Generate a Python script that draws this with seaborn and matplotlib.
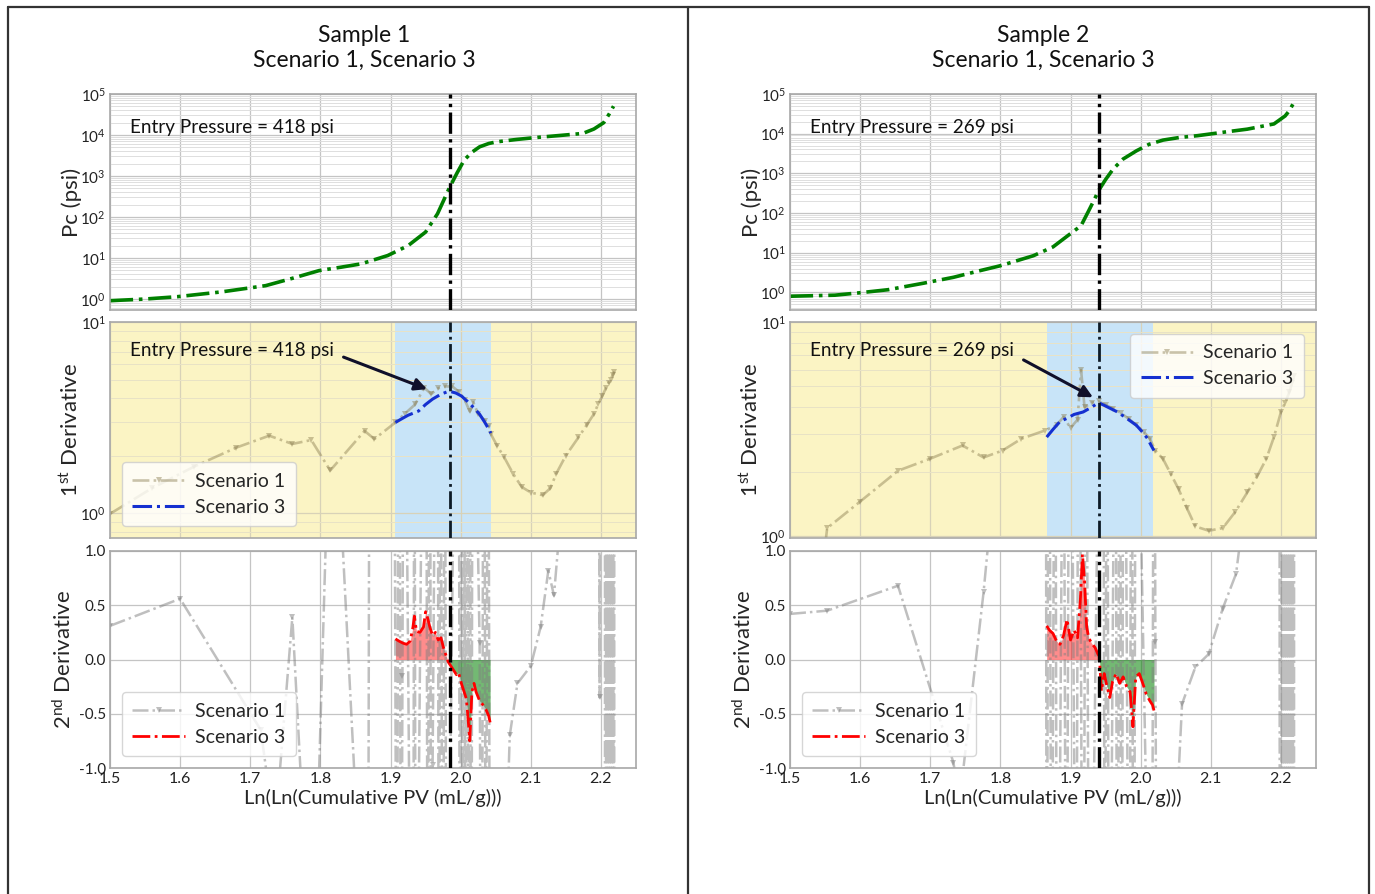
import numpy as np
import matplotlib
matplotlib.use('Agg')
import matplotlib.pyplot as plt
import seaborn as sns
from matplotlib.lines import Line2D
from matplotlib.ticker import LogLocator, NullFormatter, MultipleLocator, FixedLocator

# ---------------- data ----------------
titles = ["Sample 1", "Sample 2"]
subtitle = "Scenario 1, Scenario 3"
entry_pressures = [418, 269]
entry_x = [1.985, 1.940]
band_lo = [1.906, 1.866]
band_hi = [2.043, 2.017]

# Sample 1 - capillary pressure
s1_pc_x = [1.50, 1.55, 1.596, 1.66, 1.722, 1.76, 1.798, 1.83, 1.858, 1.896, 1.925, 1.95, 1.967, 1.976,
           1.984, 1.995, 2.005, 2.016, 2.027, 2.04, 2.051, 2.08, 2.108, 2.14, 2.174, 2.19, 2.204, 2.212, 2.218]
s1_pc_y = [0.91, 1.0, 1.14, 1.5, 2.12, 3.2, 4.93, 6.0, 7.2, 11.5, 20, 43, 120, 260,
           520, 1200, 2440, 3800, 5150, 6200, 6800, 7800, 8700, 9700, 10900, 14000, 20000, 33000, 50500]
# Sample 1 - 1st derivative, scenario 1
s1_d1_x = [1.50, 1.56, 1.62, 1.68, 1.727, 1.76, 1.787, 1.814, 1.863, 1.877, 1.907, 1.92, 1.935, 1.948,
           1.958, 1.968, 1.978, 1.988, 1.998, 2.006, 2.013, 2.018, 2.025, 2.035, 2.040, 2.043, 2.052,
           2.062, 2.075, 2.087, 2.10, 2.117, 2.128, 2.136, 2.15, 2.168, 2.18, 2.19, 2.196, 2.202, 2.207,
           2.211, 2.214, 2.217, 2.219]
s1_d1_y = [0.99, 1.35, 1.75, 2.2, 2.54, 2.30, 2.41, 1.67, 2.69, 2.44, 2.98, 3.3, 3.7, 4.53,
           4.2, 4.5, 4.6, 4.6, 4.3, 3.9, 3.4, 3.8, 3.3, 3.04, 2.86, 2.59, 2.25,
           1.96, 1.6, 1.37, 1.28, 1.24, 1.35, 1.6, 2.0, 2.49, 2.9, 3.3, 3.71, 4.1, 4.5,
           4.8, 5.0, 5.3, 5.5]
# Sample 1 - 1st derivative, scenario 3
s1_d1s3_x = [1.907, 1.915, 1.925, 1.94, 1.95, 1.96, 1.972, 1.98, 1.986, 1.993, 2.001, 2.01, 2.019,
             2.027, 2.034, 2.040, 2.043]
s1_d1s3_y = [2.98, 3.1, 3.25, 3.42, 3.7, 3.95, 4.19, 4.3, 4.32, 4.25, 4.1, 3.83, 3.55,
             3.29, 3.0, 2.75, 2.62]
# Sample 1 - 2nd derivative, scenario 1
s1_d2_x = [1.50, 1.60, 1.715, 1.735, 1.76, 1.778, 1.796, 1.81, 1.829, 1.852, 1.868, 1.870, 1.905,
           1.909, 1.912, 1.915, 1.917, 1.919, 1.932, 1.934, 1.936, 1.950, 1.953, 1.956, 1.958, 1.960,
           1.967, 1.969, 1.971, 1.975, 1.977, 1.980, 1.997, 1.999, 2.001, 2.003, 2.005, 2.007, 2.009,
           2.011, 2.013, 2.015, 2.017, 2.027, 2.030, 2.033, 2.036, 2.039, 2.042, 2.044,
           2.07, 2.081, 2.10, 2.114, 2.125, 2.133, 2.145, 2.197, 2.198,
           2.205, 2.2065, 2.208, 2.2095, 2.211, 2.2125, 2.214, 2.2155, 2.217, 2.2185, 2.2195]
s1_d2_y = [0.31, 0.56, -0.65, -1.6, 0.39, -1.8, -1.5, 1.6, 1.4, -1.5, -3.0, 3.0, 3.5,
           -4.2, 5.1, -3.8, -0.15, 4.6, -5.3, 3.9, -4.4, 5.8, -3.6, 4.9, -4.1, -0.97,
           5.2, -4.7, 3.8, -5.0, 4.3, -3.9, 5.5, -4.8, 4.1, -5.2, 3.7, -4.5, 5.0,
           -3.9, 4.6, -5.1, 3.9, 0.15, -4.4, 5.3, -3.8, 4.7, -4.0, -6.0,
           -0.70, -0.22, -0.06, 0.30, 0.82, 0.59, 1.5, 3.0, -0.35,
           30, -30, 30, -30, 30, -30, 30, -30, 30, -30, 30]
# Sample 1 - 2nd derivative, scenario 3
s1_d2s3_x = [1.907, 1.912, 1.918, 1.923, 1.928, 1.932, 1.934, 1.937, 1.942, 1.947, 1.950, 1.953, 1.956,
             1.960, 1.964, 1.968, 1.972, 1.975, 1.978, 1.982, 1.986, 1.990, 1.994, 1.997, 2.001, 2.005,
             2.008, 2.010, 2.013, 2.016, 2.019, 2.022, 2.027, 2.032, 2.036, 2.040, 2.042]
s1_d2s3_y = [0.19, 0.17, 0.15, 0.14, 0.17, 0.30, 0.40, 0.26, 0.25, 0.30, 0.44, 0.38, 0.30,
             0.22, 0.25, 0.18, 0.20, 0.12, 0.06, -0.02, -0.06, -0.10, -0.14, -0.12, -0.22, -0.30,
             -0.36, -0.50, -0.75, -0.30, -0.22, -0.30, -0.38, -0.42, -0.46, -0.52, -0.58]

# Sample 2 - capillary pressure
s2_pc_x = [1.50, 1.564, 1.60, 1.64, 1.69, 1.733, 1.77, 1.80, 1.847, 1.875, 1.896, 1.915, 1.926, 1.934,
           1.94, 1.95, 1.961, 1.975, 1.994, 2.012, 2.032, 2.055, 2.081, 2.12, 2.152, 2.19, 2.206, 2.212, 2.217]
s2_pc_y = [0.8, 0.85, 0.98, 1.17, 1.7, 2.4, 3.5, 4.7, 8.4, 14, 26.8, 48, 115, 220,
           368, 700, 1300, 2300, 3700, 5400, 6900, 8000, 8900, 11000, 13000, 17600, 28000, 38000, 55000]
# Sample 2 - 1st derivative, scenario 1
s2_d1_x = [1.550, 1.553, 1.60, 1.654, 1.70, 1.746, 1.776, 1.803, 1.83, 1.863, 1.88, 1.89, 1.90, 1.91,
           1.915, 1.92, 1.93, 1.94, 1.95, 1.961, 1.972, 1.983, 1.994, 2.005, 2.013, 2.021, 2.032, 2.043,
           2.054, 2.066, 2.078, 2.097, 2.117, 2.135, 2.152, 2.166, 2.179, 2.19, 2.2, 2.206, 2.212, 2.216, 2.219]
s2_d1_y = [0.9, 1.09, 1.45, 2.02, 2.3, 2.65, 2.33, 2.51, 2.85, 3.11, 3.3, 3.6, 3.2, 3.5,
           5.97, 4.0, 4.2, 4.26, 4.1, 3.94, 3.75, 3.53, 3.3, 3.06, 2.85, 2.51, 2.29, 1.95,
           1.66, 1.35, 1.11, 1.06, 1.09, 1.3, 1.6, 1.9, 2.29, 2.9, 3.8, 4.2, 4.7, 5.2, 5.6]
# Sample 2 - 1st derivative, scenario 3
s2_d1s3_x = [1.866, 1.875, 1.885, 1.895, 1.905, 1.918, 1.93, 1.94, 1.95, 1.96, 1.967, 1.98, 1.994,
             2.003, 2.01, 2.015, 2.019]
s2_d1s3_y = [2.9, 3.15, 3.43, 3.55, 3.7, 3.8, 4.0, 4.2, 4.05, 3.9, 3.8, 3.55, 3.29,
             3.05, 2.85, 2.65, 2.51]
# Sample 2 - 2nd derivative, scenario 1
s2_d2_x = [1.50, 1.553, 1.654, 1.733, 1.742, 1.776, 1.786, 1.865,
           1.866, 1.869, 1.873, 1.878, 1.881, 1.890, 1.894, 1.899, 1.908, 1.912, 1.918, 1.922, 1.927,
           1.946, 1.949, 1.952, 1.955, 1.964, 1.967, 1.970, 1.973, 1.976, 1.984, 1.987, 1.990, 1.993,
           2.016, 2.019, 2.021, 2.024,
           2.059, 2.078, 2.097, 2.117, 2.136, 2.148, 2.198,
           2.200, 2.2015, 2.203, 2.2045, 2.206, 2.2075, 2.209, 2.2105, 2.212, 2.2135, 2.215, 2.2165,
           2.218, 2.2195]
s2_d2_y = [0.42, 0.45, 0.68, -0.95, -1.3, 0.62, 1.3, 2.5,
           -4.5, 5.0, -3.9, 4.4, -5.2, 3.8, -4.6, 5.1, -3.7, 4.8, -5.0, 4.2, -4.4,
           5.3, -3.9, 4.6, -4.8, 3.9, -5.1, 4.4, -3.8, 5.0, -4.3, 4.7, -5.2, 3.8,
           -4.1, 4.9, 0.16, -5.0,
           -0.41, -0.07, 0.05, 0.47, 0.79, 1.4, 2.5,
           -30, 30, -30, 30, -30, 30, -30, 30, -30, 30, -30, 30,
           -30, 30]
# Sample 2 - 2nd derivative, scenario 3
s2_d2s3_x = [1.866, 1.870, 1.875, 1.880, 1.885, 1.890, 1.895, 1.900, 1.905, 1.910, 1.914, 1.917, 1.920,
             1.923, 1.926, 1.930, 1.935, 1.939, 1.941, 1.944, 1.948, 1.952, 1.956, 1.960, 1.965, 1.970,
             1.975, 1.980, 1.985, 1.989, 1.993, 1.998, 2.003, 2.008, 2.013, 2.017, 2.019]
s2_d2s3_y = [0.31, 0.27, 0.24, 0.17, 0.14, 0.22, 0.37, 0.18, 0.27, 0.20, 0.55, 0.97, 0.72,
             0.30, 0.20, 0.15, 0.11, 0.05, 0.03, -0.29, -0.13, -0.25, -0.35, -0.20, -0.13, -0.22,
             -0.16, -0.25, -0.30, -0.62, -0.16, -0.13, -0.22, -0.32, -0.38, -0.42, -0.47]

pc_ylim_low = [0.54, 0.36]
d1_ylim_low = [0.74, 0.98]
arrow_tail = [(1.833, 6.55), (1.833, 6.65)]
arrow_head = [(1.952, 4.45), (1.932, 4.45)]
d1_legend_loc = ["lower left", "upper right"]

# ---------------- style ----------------
sns.set_style("whitegrid")
plt.rcParams['font.family'] = ['Lato', 'DejaVu Sans']
plt.rcParams['mathtext.fontset'] = 'custom'
plt.rcParams['mathtext.rm'] = 'Lato'
plt.rcParams['mathtext.it'] = 'Lato:italic'
plt.rcParams['mathtext.bf'] = 'Lato:bold'

W, H = 1375, 894
fig = plt.figure(figsize=(W / 100, H / 100), dpi=100)

def fx(px):
    return px / W

def fy(py):
    return 1 - py / H

col_left = [110, 790]
col_w = 526
rows = [(94, 310), (322, 538), (551, 768)]
label_x = [-0.054, -0.054, -0.066]

YELLOW = '#FBF4C4'
BLUE = '#C8E4F8'
S1C = 'gray'
S1C_MID = '#8a7d50'

data = [
    dict(pcx=s1_pc_x, pcy=s1_pc_y, d1x=s1_d1_x, d1y=s1_d1_y, d1s3x=s1_d1s3_x, d1s3y=s1_d1s3_y,
         d2x=s1_d2_x, d2y=s1_d2_y, d2s3x=s1_d2s3_x, d2s3y=s1_d2s3_y),
    dict(pcx=s2_pc_x, pcy=s2_pc_y, d1x=s2_d1_x, d1y=s2_d1_y, d1s3x=s2_d1s3_x, d1s3y=s2_d1s3_y,
         d2x=s2_d2_x, d2y=s2_d2_y, d2s3x=s2_d2s3_x, d2s3y=s2_d2s3_y),
]

legend_kw = dict(fontsize=14, handlelength=2.7, borderpad=0.55, labelspacing=0.45,
                 handletextpad=0.5, borderaxespad=0.6, edgecolor='#cccccc')

def style_axes(ax):
    for sp in ax.spines.values():
        sp.set_color('#a8a8a8')
        sp.set_linewidth(1.2)
    ax.tick_params(labelsize=11, colors='#222222', length=0, pad=3)
    ax.set_xlim(1.5, 2.25)
    ax.xaxis.set_major_locator(MultipleLocator(0.1))
    ax.grid(True, which='major', color='#c4c4c4', lw=0.9)

for i in range(2):
    d = data[i]
    L = col_left[i]
    axs = []
    for (t, b) in rows:
        ax = fig.add_axes([fx(L), fy(b), fx(col_w), (b - t) / H])
        axs.append(ax)
    ax0, ax1, ax2 = axs

    # --- top: capillary pressure ---
    sns.lineplot(x=d['pcx'], y=d['pcy'], ax=ax0, color='green', linestyle='-.', lw=2.6,
                 estimator=None, sort=False)
    ax0.set_yscale('log')
    ax0.set_ylim(pc_ylim_low[i], 1e5)
    ax0.yaxis.set_major_locator(LogLocator(base=10, numticks=20))
    ax0.yaxis.set_minor_locator(LogLocator(base=10, subs=np.arange(2, 10), numticks=100))
    ax0.yaxis.set_minor_formatter(NullFormatter())
    style_axes(ax0)
    ax0.yaxis.grid(True, which='minor', color='#dedede', lw=0.7)
    ax0.axvline(entry_x[i], color='black', ls='-.', lw=2.4, zorder=5)
    ax0.set_xticklabels([])
    ax0.set_ylabel('Pc (psi)', fontsize=16)
    ax0.text(0.038, 0.845, f'Entry Pressure = {entry_pressures[i]} psi', transform=ax0.transAxes,
             fontsize=13.6, va='center', ha='left', color='#111111')

    # --- middle: 1st derivative ---
    ax1.axvspan(1.5, band_lo[i], color=YELLOW, zorder=0.1, lw=0)
    ax1.axvspan(band_lo[i], band_hi[i], color=BLUE, zorder=0.1, lw=0)
    ax1.axvspan(band_hi[i], 2.25, color=YELLOW, zorder=0.1, lw=0)
    sns.lineplot(x=d['d1x'], y=d['d1y'], ax=ax1, color=S1C_MID, alpha=0.45, linestyle='-.', lw=1.9,
                 marker='v', markersize=4, markeredgewidth=0, estimator=None, sort=False,
                 label='Scenario 1')
    sns.lineplot(x=d['d1s3x'], y=d['d1s3y'], ax=ax1, color='#1530d0', linestyle='-.', lw=2.2,
                 estimator=None, sort=False, label='Scenario 3')
    ax1.set_yscale('log')
    ax1.set_ylim(d1_ylim_low[i], 10)
    ax1.yaxis.set_major_locator(LogLocator(base=10, numticks=20))
    ax1.yaxis.set_minor_locator(LogLocator(base=10, subs=np.arange(2, 10), numticks=100))
    ax1.yaxis.set_minor_formatter(NullFormatter())
    style_axes(ax1)
    ax1.grid(True, which='major', color='#d8d2b8', lw=0.9)
    ax1.yaxis.grid(True, which='minor', color='#e8e2c6', lw=0.7)
    ax1.axvline(entry_x[i], color='#0d1a26', ls='-.', lw=2.0, zorder=5)
    ax1.set_xticklabels([])
    ax1.set_ylabel(r'1$^{\mathrm{st}}$ Derivative', fontsize=16)
    ax1.text(0.038, 0.868, f'Entry Pressure = {entry_pressures[i]} psi', transform=ax1.transAxes,
             fontsize=13.6, va='center', ha='left', color='#111111')
    ax1.annotate('', xy=arrow_head[i], xytext=arrow_tail[i],
                 arrowprops=dict(arrowstyle='-|>', color='#10102a', lw=2.2, mutation_scale=18,
                                 shrinkA=0, shrinkB=0), zorder=6)
    ax1.legend(loc=d1_legend_loc[i], **legend_kw)

    # --- bottom: 2nd derivative ---
    sns.lineplot(x=d['d2x'], y=d['d2y'], ax=ax2, color=S1C, alpha=0.5, linestyle='-.', lw=1.8,
                 marker='v', markersize=4, markeredgewidth=0, estimator=None, sort=False,
                 label='Scenario 1')
    x3 = np.array(d['d2s3x'])
    y3 = np.array(d['d2s3y'])
    ax2.fill_between(x3, 0, y3, where=y3 >= 0, interpolate=True, color='red', alpha=0.45, lw=0)
    ax2.fill_between(x3, 0, y3, where=y3 <= 0, interpolate=True, color='green', alpha=0.55, lw=0)
    sns.lineplot(x=d['d2s3x'], y=d['d2s3y'], ax=ax2, color='red', linestyle='-.', lw=2.0,
                 estimator=None, sort=False, label='Scenario 3')
    ax2.set_ylim(-1, 1)
    ax2.yaxis.set_major_locator(FixedLocator([-1.0, -0.5, 0.0, 0.5, 1.0]))
    ax2.set_yticklabels(['-1.0', '-0.5', '0.0', '0.5', '1.0'])
    style_axes(ax2)
    ax2.axvline(entry_x[i], color='black', ls='-.', lw=2.4, zorder=5)
    ax2.set_ylabel(r'2$^{\mathrm{nd}}$ Derivative', fontsize=16)
    ax2.set_xlabel('Ln(Ln(Cumulative PV (mL/g)))', fontsize=14.5, labelpad=2)
    ax2.tick_params(axis='x', labelsize=11.5)
    ax2.legend(loc='lower left', **legend_kw)

    for ax, lx in zip(axs, label_x):
        ax.yaxis.set_label_coords(lx, 0.5)

    cx = [364, 1043][i]
    fig.text(fx(cx), fy(35), titles[i], ha='center', va='center', fontsize=16.5, color='#111111')
    fig.text(fx(cx), fy(60), subtitle, ha='center', va='center', fontsize=16.5, color='#111111')

# page borders
bc = '#333333'
fig.add_artist(Line2D([fx(8), fx(1369)], [fy(7), fy(7)], color=bc, lw=1.6, transform=fig.transFigure))
fig.add_artist(Line2D([fx(8), fx(8)], [fy(7), 0], color=bc, lw=1.6, transform=fig.transFigure))
fig.add_artist(Line2D([fx(1369), fx(1369)], [fy(7), 0], color=bc, lw=1.6, transform=fig.transFigure))
fig.add_artist(Line2D([fx(688), fx(688)], [fy(7), 0], color=bc, lw=1.6, transform=fig.transFigure))

fig.savefig('out.png', dpi=100, facecolor='white')
